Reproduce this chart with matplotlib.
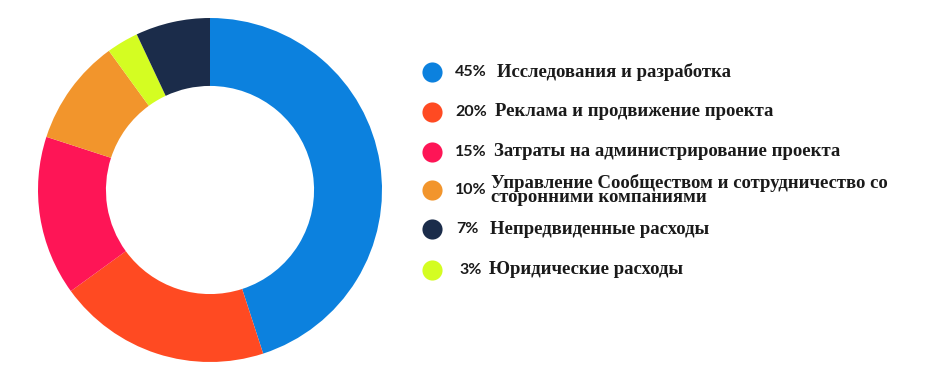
import matplotlib as mpl
mpl.use('Agg')
import matplotlib.pyplot as plt

# data, in clockwise order round the ring starting at 12 o'clock
ring_labels = ['Исследования и разработка', 'Реклама и продвижение проекта',
               'Затраты на администрирование проекта',
               'Управление Сообществом и сотрудничество со\nсторонними компаниями',
               'Юридические расходы', 'Непредвиденные расходы']
ring_values = [45, 20, 15, 10, 3, 7]
ring_colors = ['#0c81de', '#ff4a22', '#fe1556', '#f2952c', '#d4fd22', '#1b2c4a']

# legend order (as printed on the right)
legend_order = [0, 1, 2, 3, 5, 4]

W, H = 927, 384
fig = plt.figure(figsize=(W / 100, H / 100), dpi=100)

# donut
cx, cy, r = 210, 190, 172
ax = fig.add_axes([(cx - r) / W, (H - cy - r) / H, 2 * r / W, 2 * r / H])
ax.pie(ring_values, colors=ring_colors, startangle=90, counterclock=False,
       radius=1, wedgeprops=dict(width=0.395, linewidth=0))
ax.set_xlim(-1, 1)
ax.set_ylim(-1, 1)
ax.set_aspect('equal')
ax.axis('off')

# legend drawn in pixel coords
lg = fig.add_axes([0, 0, 1, 1])
lg.set_xlim(0, W)
lg.set_ylim(H, 0)
lg.axis('off')

row_y = [72, 112, 152, 190, 229, 270]
pct_x = [455, 455, 455, 455, 456, 459]
txt_x = [497, 495, 494, 491, 490, 489]
for row, i in enumerate(legend_order):
    y = row_y[row]
    lg.scatter([432], [y], s=210, color=ring_colors[i], linewidths=0)
    lg.text(pct_x[row], y, '%d%%' % ring_values[i], fontsize=11.5, fontweight='bold',
            family='Lato', color='#1a1a1a', va='center', ha='left')
    multi = '\n' in ring_labels[i]
    lg.text(txt_x[row], y, ring_labels[i], fontsize=13.5,
            fontweight='bold', family='Liberation Serif', color='#1a1a1a',
            va='center', ha='left', linespacing=0.72 if multi else 1.2)

fig.savefig('out.png', dpi=100, facecolor='white')
